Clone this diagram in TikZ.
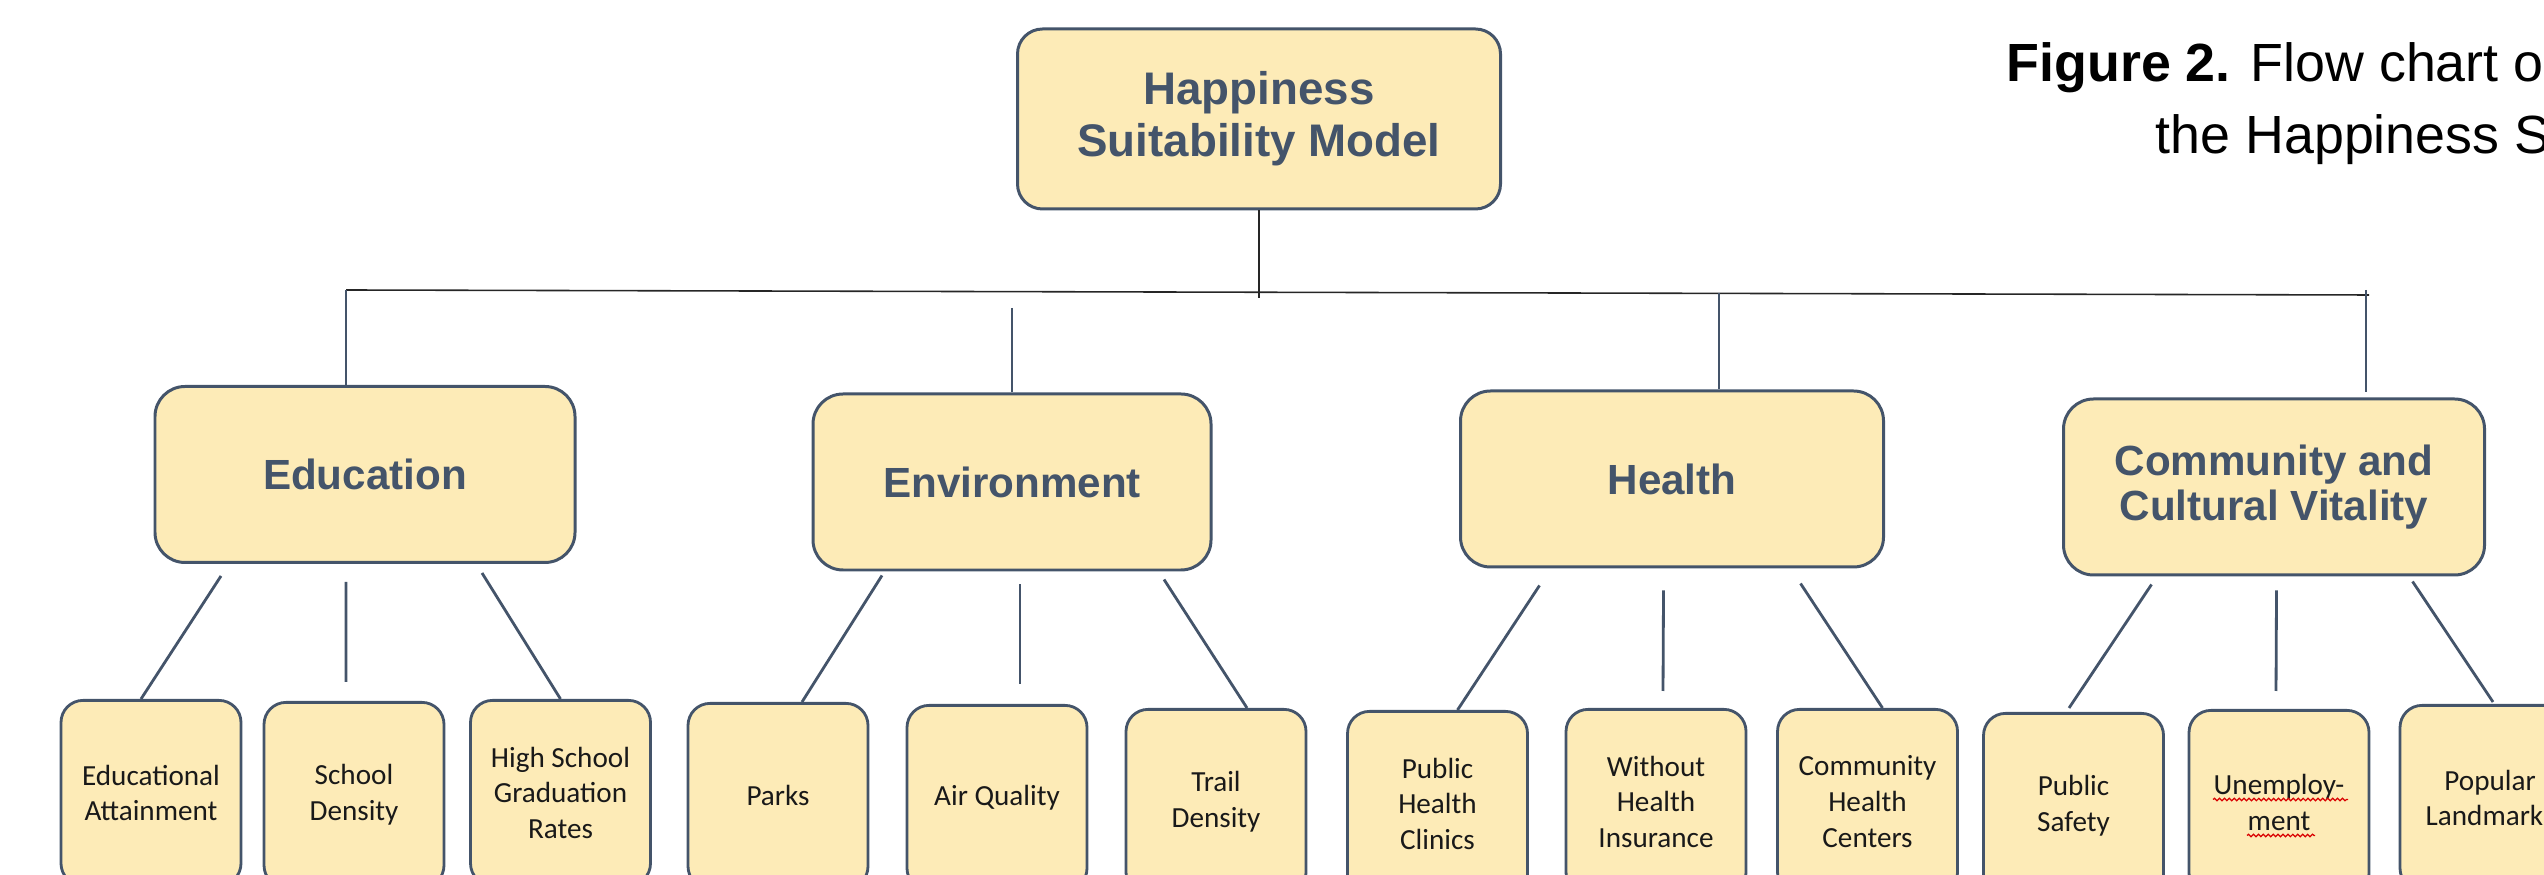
\documentclass[tikz,border=0pt]{standalone}
\usepackage{fontspec}
\setmainfont{Liberation Sans}
\newfontfamily\leaffont{Carlito}
\usetikzlibrary{positioning, decorations.pathmorphing}

\definecolor{slate}{HTML}{44546A}
\definecolor{butter}{HTML}{FDEBB7}

\begin{document}
\begin{tikzpicture}[
    model/.style={rectangle, rounded corners=0.25cm, draw=slate, line width=0.85pt, fill=butter,
      minimum width=4.83cm, minimum height=1.80cm, align=center, text=slate,
      font=\fontsize{13}{14.8}\selectfont\bfseries},
    factor/.style={rectangle, rounded corners=0.3cm, draw=slate, line width=0.85pt, fill=butter,
      minimum width=4.2cm, minimum height=1.76cm, align=center, text=slate,
      font=\fontsize{12}{12.8}\selectfont\bfseries},
    layer/.style={rectangle, rounded corners=0.22cm, draw=slate, line width=0.8pt, fill=butter,
      minimum width=1.8cm, minimum height=1.85cm, align=center, anchor=north, text=black!90,
      font=\leaffont\fontsize{8.3}{10.2}\selectfont},
    bus/.style={black!85, line width=0.45pt},
    link/.style={slate, line width=0.8pt},
    squiggle/.style={red!85!black, line width=0.35pt, decorate,
      decoration={snake, amplitude=0.35pt, segment length=1.4pt}}]

  \useasboundingbox (0,0) rectangle (25.44,8.75);
  \clip (0,0) rectangle (25.44,8.75);

  % top of the tree and the caption
  \node[model] (model) at (12.59,7.56) {Happiness\\Suitability Model};
  \node[anchor=base west, inner sep=0, font=\fontsize{15.3}{17}\selectfont] (cap1) at (20.06,7.93) {\textbf{Figure 2.} Flow chart o};
  \node[anchor=base west, inner sep=0, font=\fontsize{15.3}{17}\selectfont] (cap2) at (21.55,7.21) {the Happiness S};

  % the four factors
  \node[factor] (edu) at (3.65,4.005) {Education};
  \node[factor, minimum width=3.98cm] (env) at (10.12,3.93) {Environment};
  \node[factor, minimum width=4.23cm] (hlth) at (16.72,3.96) {Health};
  \node[factor, minimum width=4.21cm] (comm) at (22.74,3.88) {Community and\\Cultural Vitality};

  % data layers
  \node[layer] (att) at (1.51,1.76) {Educational\\Attainment};
  \node[layer] (dens) at (3.54,1.74) {School\\Density};
  \node[layer] (grad) at (5.605,1.76) {High School\\Graduation\\Rates};
  \node[layer] (parks) at (7.78,1.73) {Parks};
  \node[layer] (air) at (9.97,1.71) {Air Quality};
  \node[layer] (trail) at (12.16,1.67) {Trail\\Density};
  \node[layer] (clinic) at (14.375,1.65) {Public\\Health\\Clinics};
  \node[layer] (insur) at (16.56,1.67) {Without\\Health\\Insurance};
  \node[layer] (chc) at (18.675,1.67) {Community\\Health\\Centers};
  \node[layer] (safety) at (20.735,1.63) {Public\\Safety};
  \node[layer] (unemp) at (22.79,1.66) {Unemploy-\\ment};
  \node[layer] (landm) at (24.90,1.71) {Popular\\Landmarks};

  % bus line under the model
  \coordinate (busW) at (3.46,5.85);
  \coordinate (busE) at (23.69,5.80);
  \coordinate (envTop) at (10.12,5.67);
  \coordinate (hlthTop) at (17.19,5.82);
  \coordinate (commTop) at (23.66,5.85);

  \draw[bus] (busW) -- (busE);
  \draw[bus] (model.south) -- ++(0,-0.88);

  \draw[link] (busW) -- (busW |- edu.north);
  \draw[link] (envTop) -- (envTop |- env.north);
  \draw[link] (hlthTop) -- (hlthTop |- hlth.north);
  \draw[link] (commTop) -- ++(0,-1.02);

  % factor -> layers
  \draw[link] ([shift={(-1.44,-0.12)}]edu.south) -- ([xshift=-1mm]att.north);
  \draw[link] ([shift={(-0.19,-0.18)}]edu.south) -- ([shift={(-0.08,0.19)}]dens.north);
  \draw[link] ([shift={(1.17,-0.09)}]edu.south) -- (grad.north);

  \draw[link] ([shift={(-1.30,-0.04)}]env.south) -- ([xshift=2.4mm]parks.north);
  \draw[link] ([shift={(0.08,-0.13)}]env.south) -- ([shift={(0.23,0.20)}]air.north);
  \draw[link] ([shift={(1.52,-0.08)}]env.south) -- ([xshift=3.1mm]trail.north);

  \draw[link] ([shift={(-1.325,-0.17)}]hlth.south) -- ([xshift=2mm]clinic.north);
  \draw[link] ([shift={(-0.085,-0.22)}]hlth.south) -- ([shift={(0.07,0.17)}]insur.north);
  \draw[link] ([shift={(1.285,-0.15)}]hlth.south) -- ([xshift=1.5mm]chc.north);

  \draw[link] ([shift={(-1.225,-0.08)}]comm.south) -- ([shift={(-0.045,0.04)}]safety.north);
  \draw[link] ([shift={(0.025,-0.14)}]comm.south) -- ([shift={(-0.03,0.18)}]unemp.north);
  \draw[link] ([shift={(1.385,-0.05)}]comm.south) -- ([shift={(0.03,0.02)}]landm.north);

  % spell-check marks
  \draw[squiggle] ([shift={(-0.66,-0.905)}]unemp.north) -- ([shift={(0.69,-0.905)}]unemp.north);
  \draw[squiggle] ([shift={(-0.32,-1.265)}]unemp.north) -- ([shift={(0.36,-1.265)}]unemp.north);
\end{tikzpicture}
\end{document}
